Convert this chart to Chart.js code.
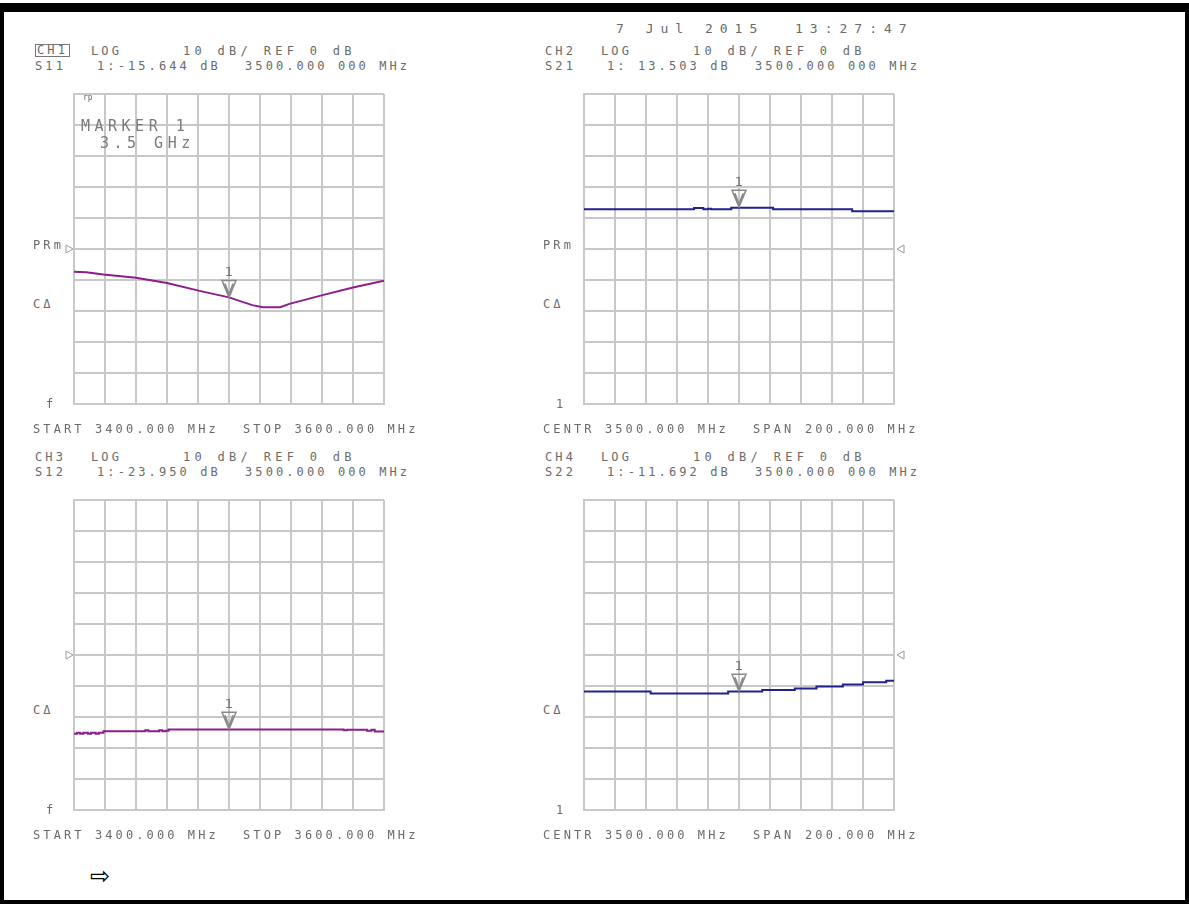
<!DOCTYPE html>
<html>
<head>
<meta charset="utf-8">
<script src="https://cdn.jsdelivr.net/npm/chart.js@4"></script>
<style>
  body { margin: 0; background: #fff; width: 1189px; height: 904px; overflow: hidden; position: relative; font-family: "DejaVu Sans Mono", monospace; }
  #frame { position: absolute; left: 0; top: 3px; width: 1181px; height: 888px; border: 4px solid #000; border-top: 9px solid #000; }
  canvas { position: absolute; }
  .t { position: absolute; font-size: 12px; line-height: 14px; color: #6a6a6a; letter-spacing: 3.1px; white-space: pre; }
  .box { border: 1px solid #777; padding: 0 1px; line-height: 11px; }
  .big { font-size: 15px; line-height: 16px; letter-spacing: 4.5px; color: #7a7a7a; }
  .wide { font-size: 13px; letter-spacing: 7px; }
  .ref { letter-spacing: 4.3px; }
  .tiny { font-size: 8px; line-height: 8px; letter-spacing: 0; }
  .arrow { font-size: 24px; line-height: 24px; color: #000; letter-spacing: 0; font-family: "DejaVu Sans"; }
</style>
</head>
<body>
<div id="frame"></div>
<canvas id="ch1" width="342" height="342" style="left:58px;top:78px"></canvas>
<canvas id="ch2" width="342" height="342" style="left:568px;top:78px"></canvas>
<canvas id="ch3" width="342" height="342" style="left:58px;top:484px"></canvas>
<canvas id="ch4" width="342" height="342" style="left:568px;top:484px"></canvas>
<script>
// frequency sweep (MHz) and trace values (dB)
const freqS11 = [3400, 3408, 3419, 3440, 3460, 3481, 3500, 3515, 3522, 3533, 3539, 3561, 3580, 3600];
const dbS11 = [-7.3, -7.5, -8.2, -9.3, -11.0, -13.5, -15.6, -18.1, -18.8, -18.8, -17.7, -14.8, -12.4, -10.2];

const freqS21 = [3400, 3471, 3477, 3480, 3482, 3495, 3522, 3573, 3600];
const dbS21 = [12.8, 13.2, 12.8, 13.0, 12.8, 13.3, 12.8, 12.2, 12.2];

const freqS12 = [3400, 3402, 3404, 3406, 3409, 3411, 3414, 3416, 3419, 3446, 3448, 3455, 3457, 3459, 3461, 3574, 3576, 3589, 3592, 3594, 3600];
const dbS12 = [-25.4, -25.1, -25.4, -25.1, -25.4, -25.1, -25.4, -25.1, -24.6, -24.3, -24.6, -24.3, -24.6, -24.4, -24.0, -24.3, -24.1, -24.4, -24.1, -24.7, -24.7];

const freqS22 = [3400, 3443, 3493, 3515, 3536, 3550, 3567, 3580, 3595, 3600];
const dbS22 = [-11.8, -12.4, -11.8, -11.3, -10.8, -10.2, -9.5, -8.8, -8.3, -8.3];

const markerFreq = 3500;
const markerDb = [-15.644, 13.503, -23.950, -11.692];
const refDb = 0;

const purple = '#8c1e8c';
const navy = '#22228e';
const gridColor = '#c8c8c8';

// marker "1" triangle and the reference position arrow
const markerPlugin = {
    id: 'vnaMarker',
    afterDatasetsDraw(chart, args, opts) {
        const { ctx, chartArea } = chart;
        const xs = chart.scales.x, ys = chart.scales.y;
        const px = xs.getPixelForValue(opts.freq);
        const py = ys.getPixelForValue(opts.value);
        ctx.save();
        ctx.strokeStyle = '#8a8a8a';
        ctx.lineWidth = 1.5;
        ctx.beginPath();
        ctx.moveTo(px - 7, py - 17);
        ctx.lineTo(px + 7, py - 17);
        ctx.lineTo(px, py);
        ctx.closePath();
        ctx.moveTo(px - 4, py - 14);
        ctx.lineTo(px, py - 3);
        ctx.lineTo(px + 4, py - 14);
        ctx.stroke();
        ctx.fillStyle = '#707070';
        ctx.font = '13px "DejaVu Sans"';
        ctx.textAlign = 'center';
        ctx.fillText('1', px, py - 21);

        const ry = ys.getPixelForValue(refDb);
        ctx.lineWidth = 1;
        ctx.strokeStyle = '#9a9a9a';
        ctx.beginPath();
        if (opts.refSide === 'left') {
            ctx.moveTo(chartArea.left - 8, ry - 4);
            ctx.lineTo(chartArea.left - 8, ry + 4);
            ctx.lineTo(chartArea.left - 1, ry);
        } else {
            ctx.moveTo(chartArea.right + 10, ry - 4);
            ctx.lineTo(chartArea.right + 10, ry + 4);
            ctx.lineTo(chartArea.right + 3, ry);
        }
        ctx.closePath();
        ctx.stroke();
        ctx.restore();
    }
};

function buildTrace(id, freqs, values, color, stepped, marker, refSide) {
    new Chart(document.getElementById(id), {
        type: 'line',
        data: {
            datasets: [{
                data: freqs.map((f, i) => ({ x: f, y: values[i] })),
                borderColor: color,
                borderWidth: 2,
                pointRadius: 0,
                stepped: stepped,
                tension: 0
            }]
        },
        options: {
            responsive: false,
            animation: false,
            devicePixelRatio: 1,
            layout: { padding: 16 },
            scales: {
                x: {
                    type: 'linear', min: 3400, max: 3600,
                    ticks: { display: false, stepSize: 20 },
                    grid: { color: gridColor, lineWidth: 2, drawTicks: false },
                    border: { color: gridColor, width: 2 },
                    afterFit: (s) => { s.height = 0; }
                },
                y: {
                    min: -50, max: 50,
                    ticks: { display: false, stepSize: 10 },
                    grid: { color: gridColor, lineWidth: 2, drawTicks: false },
                    border: { color: gridColor, width: 2 },
                    afterFit: (s) => { s.width = 0; }
                }
            },
            plugins: {
                legend: { display: false },
                tooltip: { enabled: false },
                vnaMarker: { freq: markerFreq, value: marker, refSide: refSide }
            }
        },
        plugins: [markerPlugin]
    });
}

buildTrace('ch1', freqS11, dbS11, purple, false, markerDb[0], 'left');
buildTrace('ch2', freqS21, dbS21, navy, true, markerDb[1], 'right');
buildTrace('ch3', freqS12, dbS12, purple, true, markerDb[2], 'left');
buildTrace('ch4', freqS22, dbS22, navy, true, markerDb[3], 'right');

function addText(str, x, y, cls) {
    const d = document.createElement('div');
    d.className = 't' + (cls ? ' ' + cls : '');
    d.textContent = str;
    d.style.left = x + 'px';
    d.style.top = (y - 7) + 'px';
    document.body.appendChild(d);
}

addText('7 Jul 2015', 616, 29, 'wide');
addText('13:27:47', 795, 29, 'wide');

// channel headers
const headers = [
    ['CH1', 'S11', '1:-15.644 dB', 0, 0],
    ['CH2', 'S21', '1: 13.503 dB', 510, 0],
    ['CH3', 'S12', '1:-23.950 dB', 0, 406],
    ['CH4', 'S22', '1:-11.692 dB', 510, 406]
];
headers.forEach(([ch, sp, mk, dx, dy]) => {
    addText(ch, 35 + dx, 51 + dy, ch === 'CH1' ? 'box' : '');
    addText('LOG', 91 + dx, 51 + dy);
    addText('10 dB/ REF 0 dB', 183 + dx, 51 + dy, 'ref');
    addText(sp, 35 + dx, 66 + dy);
    addText(mk, 97 + dx, 66 + dy);
    addText('3500.000 000 MHz', 245 + dx, 66 + dy);
    addText('C\u0394', 33 + dx, 304 + dy);
    addText(dx ? '1' : 'f', 46 + dx, 404 + dy);
    if (dx) {
        addText('CENTR 3500.000 MHz', 543, 429 + dy);
        addText('SPAN', 753, 429 + dy);
        addText('200.000 MHz', 805, 429 + dy);
    } else {
        addText('START 3400.000 MHz', 33, 429 + dy);
        addText('STOP 3600.000 MHz', 243, 429 + dy);
    }
});
addText('PRm', 33, 245);
addText('PRm', 543, 245);

addText('rp', 83, 101, 'tiny');
addText('MARKER 1', 81, 125, 'big');
addText('3.5 GHz', 100, 142, 'big');
addText('\u21e8', 90, 871, 'arrow');
</script>
</body>
</html>
